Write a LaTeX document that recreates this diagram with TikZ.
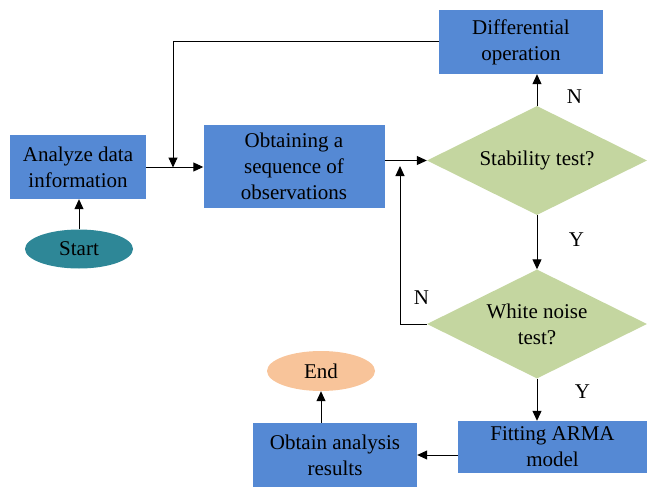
\documentclass[tikz,border=0pt]{standalone}
\usepackage{fontspec}
\setmainfont{Liberation Serif}
\usepackage{xcolor}
\usetikzlibrary{positioning,arrows.meta,calc,shapes.geometric}

\definecolor{boxblue}{HTML}{5589D4}
\definecolor{testgreen}{HTML}{C4D6A0}
\definecolor{startteal}{HTML}{2E8797}
\definecolor{endpeach}{HTML}{F8C49A}

\begin{document}
\begin{tikzpicture}[
  x=1pt, y=-1pt,
  font=\fontsize{21}{26}\selectfont,
  proc/.style={fill=boxblue, align=center, inner sep=0pt},
  test/.style={diamond, fill=testgreen, align=center, inner sep=0pt,
    aspect=2, minimum width=220pt, minimum height=109pt},
  term/.style={ellipse, inner sep=0pt, minimum width=108pt, minimum height=39pt},
  arr/.style={-{Triangle[length=10pt, width=9pt]}, line width=1pt, black}
]
\useasboundingbox (0,0) rectangle (648,487);
\node[proc, minimum width=164pt, minimum height=64pt] (diff) at (521,42) {Differential\\operation};
\node[proc, minimum width=136pt, minimum height=64pt] (analyze) at (78,167) {Analyze data\\information};
\node[proc, minimum width=181pt, minimum height=83pt] (obtain) at (294,166.5) {Obtaining a\\sequence of\\observations};
\node[test] (stab) at (537,160.5) {Stability test?};
\node[test] (white) at (537,324) {White noise\\test?};
\node[term, fill=startteal] (start) at (79,249) {Start};
\node[term, fill=endpeach, minimum height=40pt] (stop) at (321,371) {End};
\node[proc, minimum width=164pt, minimum height=64pt] (result) at (335,455) {Obtain analysis\\results};
\node[proc, minimum width=189pt, minimum height=52pt] (fit) at (552.5,447) {Fitting ARMA\\model};
\coordinate (join) at (173,167.5);
\coordinate (back) at (400,166);
% connectors
\draw[arr] (start.north) -- (start.north |- analyze.south);
\draw[arr] (analyze.east) -- (analyze.east -| obtain.west);
\draw[arr] (diff.west) -| (join);
\draw[arr] (obtain.east |- stab.west) -- (stab.west);
\draw[arr] (stab.north) -- (stab.north |- diff.south) node[pos=0.3, right=26pt] {N};
\draw[arr] (stab.south) -- (white.north) node[pos=0.45, right=28pt] {Y};
\draw[arr] (white.west) -| (back) node[pos=0.1, above=16pt] {N};
\draw[arr] (white.south) -- (white.south |- fit.north) node[pos=0.3, right=34pt] {Y};
\draw[arr] (fit.west |- result.east) -- (result.east);
\draw[arr] (stop.south |- result.north) -- (stop.south);
\end{tikzpicture}
\end{document}
